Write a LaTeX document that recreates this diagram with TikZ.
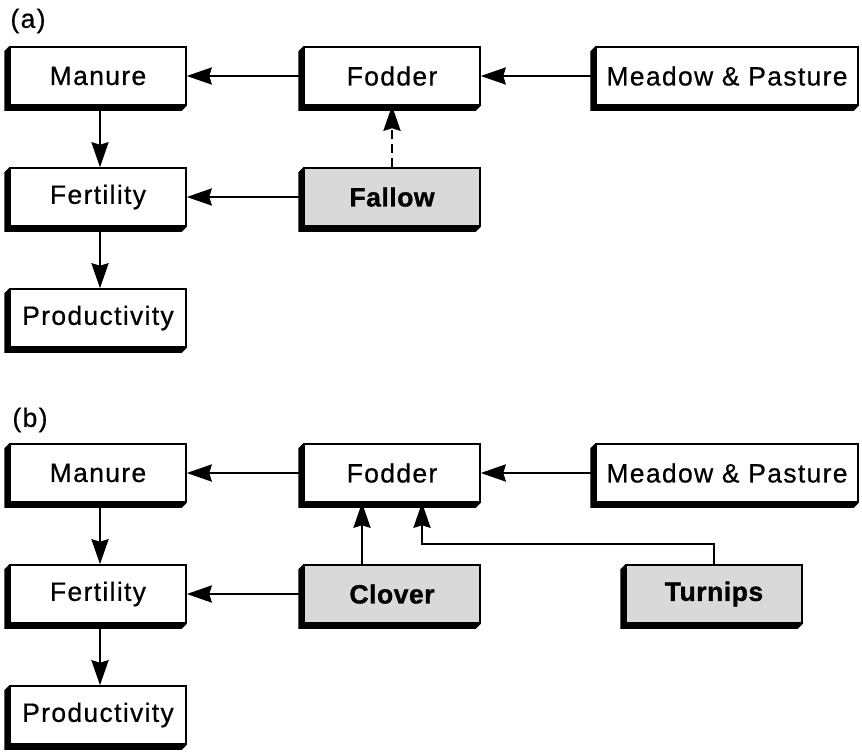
\documentclass[tikz,border=0pt]{standalone}
\usepackage{fontspec}
\setmainfont{Liberation Sans}[LetterSpace=5,FakeBold=0.6,
  BoldFont={Liberation Sans Bold},BoldFeatures={FakeBold=1.2,LetterSpace=2}]
\usetikzlibrary{arrows.meta,calc}
\tikzset{
  box/.style={draw=black, line width=1.5pt, fill=white, inner sep=0pt,
    minimum width=176pt, minimum height=58pt,
    font=\fontsize{26.5}{30}\selectfont},
  widebox/.style={box, minimum width=262pt},
  graybox/.style={box, fill=black!15, font=\fontsize{26.5}{30}\selectfont\bfseries},
  arr/.style={line width=2.6pt, -{Stealth[length=25pt,width=17pt,inset=2.5pt]}},
  dasharr/.style={arr, dash pattern=on 9pt off 5pt},
  lbl/.style={inner sep=0pt, font=\fontsize{26.5}{30}\selectfont}
}
\newcommand{\boxshadow}[1]{%
  \fill[black] (#1.north west) -- ++(-5,5) -- ($(#1.south west)+(-5,5)$)
    -- ($(#1.south east)+(-5,5)$) -- (#1.south east) -- (#1.south west) -- cycle;}
\begin{document}
\begin{tikzpicture}[x=1pt,y=-1pt]
\useasboundingbox (0,0) rectangle (862,752);
% ---------- (a) ----------
\node[lbl] (la) at (28,21) {(a)};
\node[box] (manA) at (98,76) {Manure};
\node[box] (fodA) at (392,76) {Fodder};
\node[widebox] (meaA) at (727,76) {Meadow \& Pasture};
\node[box] (ferA) at (98,197) {Fertility};
\node[graybox] (falA) at (392,197) {Fallow};
\node[box] (proA) at (98,318) {Productivity};
\foreach \n in {manA,fodA,meaA,ferA,falA,proA}{\boxshadow{\n}}
\draw[arr] (fodA.west) -- (manA.east);
\draw[arr] (meaA.west) -- (fodA.east);
\draw[arr] (falA.west) -- (ferA.east);
\draw[arr] ([xshift=2pt]manA.south) -- ([xshift=2pt]ferA.north);
\draw[arr] ([xshift=2pt]ferA.south) -- ([xshift=2pt]proA.north);
\draw[dasharr] (falA.north) -- (fodA.south);
% ---------- (b) ----------
\node[lbl] (lb) at (30,420) {(b)};
\node[box] (manB) at (98,473) {Manure};
\node[box] (fodB) at (392,473) {Fodder};
\node[widebox] (meaB) at (727,473) {Meadow \& Pasture};
\node[box] (ferB) at (98,594) {Fertility};
\node[graybox] (cloB) at (392,594) {Clover};
\node[graybox] (turB) at (714,594) {Turnips};
\node[box] (proB) at (98,715) {Productivity};
\foreach \n in {manB,fodB,meaB,ferB,cloB,turB,proB}{\boxshadow{\n}}
\draw[arr] (fodB.west) -- (manB.east);
\draw[arr] (meaB.west) -- (fodB.east);
\draw[arr] (cloB.west) -- (ferB.east);
\draw[arr] ([xshift=2pt]manB.south) -- ([xshift=2pt]ferB.north);
\draw[arr] ([xshift=2pt]ferB.south) -- ([xshift=2pt]proB.north);
\draw[arr] ([xshift=-30pt]cloB.north) -- ([xshift=-30pt]fodB.south);
\coordinate (tbend) at (422,544);
\draw[arr] (turB.north) |- (tbend) -- (tbend |- fodB.south);
\end{tikzpicture}
\end{document}
